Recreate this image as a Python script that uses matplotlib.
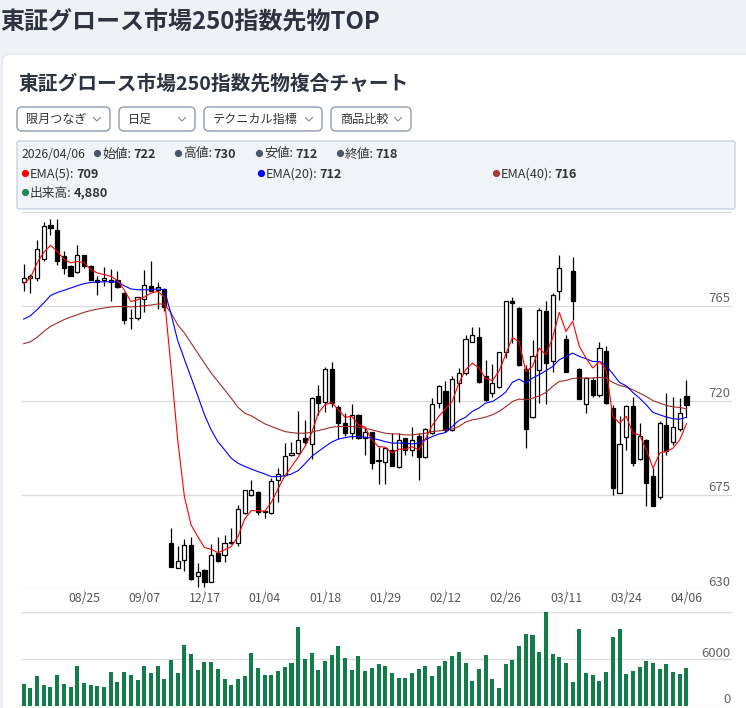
import matplotlib
matplotlib.use("Agg")
import matplotlib.pyplot as plt
from matplotlib.patches import FancyBboxPatch
from matplotlib.lines import Line2D
from matplotlib.transforms import Affine2D

plt.rcParams['font.family'] = ['Noto Sans CJK JP', 'DejaVu Sans']

# ---- data ----
opens = [776.5, 778.4, 778.4, 787.5, 803.5, 801.4, 788.7, 784.3, 781.3, 789.5,
         783.9, 777.6, 777.3, 777.6, 777.6, 771.2, 759.4, 759.1, 768.4, 774.7,
         772.5, 773.2, 652.0, 640.0, 643.9, 651.0, 636.4, 639.2, 633.6, 647.5,
         646.4, 652.0, 652.0, 666.3, 675.0, 676.6, 667.0, 666.3, 682.2, 684.6,
         694.1, 694.9, 702.3, 699.2, 722.2, 719.5, 735.0, 716.9, 709.2, 704.7,
         713.2, 702.1, 704.9, 691.2, 690.9, 696.5, 688.2, 702.1, 696.5, 703.3,
         693.0, 704.4, 719.0, 724.3, 706.0, 728.3, 733.1, 748.1, 750.5, 731.5,
         723.8, 726.4, 742.9, 767.6, 764.1, 735.0, 712.1, 734.6, 762.5, 738.6,
         772.0, 749.3, 781.5, 735.0, 718.3, 729.9, 722.7, 743.4, 716.5, 676.1,
         702.8, 717.5, 692.0, 701.3, 684.1, 673.9, 708.4, 700.0, 706.4, 722.0]
highs = [785.1, 780.3, 796.3, 804.9, 806.5, 806.5, 791.1, 784.7, 794.3, 789.5,
         784.7, 779.5, 783.6, 782.7, 781.5, 771.5, 763.6, 769.3, 782.0, 786.3,
         776.3, 773.5, 659.1, 650.8, 653.9, 655.1, 642.7, 639.6, 651.6, 654.8,
         655.9, 659.1, 670.1, 677.4, 682.2, 677.0, 667.5, 683.0, 687.9, 699.8,
         700.0, 714.8, 710.5, 721.9, 727.5, 736.2, 738.3, 717.9, 714.0, 718.4,
         713.5, 707.3, 705.2, 698.0, 698.0, 704.7, 704.4, 702.3, 707.3, 704.4,
         706.8, 721.1, 727.5, 729.1, 731.5, 735.5, 751.3, 755.0, 755.0, 739.4,
         737.5, 743.2, 767.6, 769.3, 764.8, 737.0, 749.0, 764.1, 767.2, 771.2,
         789.5, 751.3, 788.2, 735.3, 731.0, 731.2, 748.1, 746.0, 717.9, 712.4,
         717.9, 721.9, 709.2, 701.6, 687.7, 710.0, 723.8, 721.9, 721.1, 730.0]
lows = [772.3, 771.2, 776.8, 786.3, 799.0, 784.7, 780.4, 779.2, 780.8, 783.0,
        777.3, 770.4, 774.7, 767.6, 773.6, 756.6, 754.2, 758.5, 762.2, 772.0,
        763.6, 762.5, 640.8, 640.0, 638.9, 634.5, 631.0, 631.0, 633.6, 643.2,
        642.9, 651.6, 650.8, 665.8, 674.3, 665.5, 663.9, 666.0, 671.8, 684.0,
        693.5, 694.5, 699.5, 692.2, 713.2, 714.3, 717.0, 701.7, 703.3, 701.6,
        701.6, 694.1, 687.3, 680.3, 680.3, 689.0, 688.0, 694.1, 693.6, 682.2,
        692.7, 704.0, 716.5, 705.2, 705.5, 719.5, 732.3, 747.7, 728.3, 720.0,
        721.9, 726.0, 740.4, 747.4, 736.5, 697.3, 711.5, 718.8, 718.5, 733.8,
        767.7, 733.8, 758.5, 720.5, 714.0, 721.9, 721.9, 718.5, 675.0, 675.8,
        696.5, 688.8, 691.7, 669.8, 669.5, 673.0, 694.1, 698.9, 705.5, 712.0]
closes = [778.4, 779.4, 792.2, 803.3, 802.1, 786.3, 783.2, 779.2, 789.5, 783.9,
          777.3, 776.6, 778.4, 776.5, 773.9, 758.2, 759.1, 769.3, 775.1, 772.0,
          773.9, 764.8, 640.8, 643.7, 651.0, 634.8, 638.1, 633.6, 646.2, 643.7,
          652.0, 652.3, 668.2, 677.4, 677.4, 667.0, 667.2, 681.8, 684.9, 693.6,
          695.2, 701.3, 700.0, 721.1, 719.0, 735.0, 718.8, 709.2, 704.4, 713.2,
          702.1, 704.9, 690.1, 691.4, 697.3, 689.0, 701.3, 696.5, 701.3, 693.0,
          706.5, 718.4, 726.7, 706.0, 730.2, 733.1, 749.3, 751.3, 728.6, 720.3,
          728.3, 742.9, 767.6, 766.5, 737.0, 706.4, 741.3, 763.3, 738.1, 770.4,
          783.2, 733.8, 767.2, 720.7, 730.7, 722.7, 745.0, 719.0, 678.2, 699.3,
          717.5, 690.1, 703.2, 680.9, 669.8, 709.5, 695.7, 707.3, 714.0, 718.0]
ema5 = [775.7, 778.4, 785.6, 790.6, 794.0, 791.1, 787.5, 785.6, 786.3, 785.8,
        782.4, 780.8, 780.0, 779.2, 777.3, 772.8, 767.2, 768.0, 769.3, 771.2,
        772.0, 769.5, 736.0, 701.3, 674.2, 660.7, 655.1, 649.9, 649.1, 647.5,
        648.8, 650.4, 655.1, 663.5, 667.5, 667.5, 667.2, 671.5, 678.0, 684.0,
        688.5, 693.0, 698.0, 704.4, 714.0, 718.0, 719.0, 715.6, 712.0, 712.4,
        708.4, 707.3, 701.3, 698.0, 697.8, 694.9, 696.8, 696.8, 698.0, 696.5,
        701.6, 708.0, 712.5, 716.0, 719.5, 728.3, 734.6, 737.8, 735.5, 730.5,
        729.5, 734.0, 742.0, 750.0, 748.0, 733.8, 736.2, 745.0, 741.8, 749.8,
        762.0, 752.9, 757.7, 745.8, 740.2, 735.5, 738.6, 734.6, 712.4, 709.2,
        712.4, 704.4, 703.6, 696.5, 687.7, 694.9, 695.7, 697.3, 701.3, 709.0]
ema20 = [758.8, 760.4, 763.3, 766.5, 770.0, 771.5, 772.5, 773.6, 774.7, 775.7,
         776.3, 776.5, 776.6, 776.6, 776.6, 774.7, 773.2, 772.8, 772.8, 772.8,
         773.2, 772.8, 761.3, 748.6, 739.7, 731.0, 722.2, 713.2, 706.0, 700.4,
         696.5, 692.5, 690.1, 688.6, 687.3, 686.1, 685.0, 683.7, 683.7, 684.1,
         685.0, 686.6, 689.8, 693.3, 695.7, 698.0, 700.2, 701.6, 702.3, 702.8,
         702.8, 702.5, 702.0, 701.3, 700.4, 699.7, 699.7, 699.7, 699.3, 699.7,
         701.3, 702.8, 704.0, 704.7, 707.6, 710.5, 712.0, 714.8, 716.4, 718.8,
         719.5, 721.5, 724.0, 728.7, 730.2, 728.3, 730.7, 732.3, 734.2, 736.2,
         739.4, 741.0, 742.6, 741.0, 739.9, 738.6, 738.6, 736.6, 732.7, 728.6,
         727.0, 723.8, 721.1, 717.9, 714.3, 713.2, 712.1, 711.3, 711.1, 712.0]
ema40 = [747.1, 748.0, 750.1, 752.9, 755.3, 756.9, 758.5, 759.8, 760.9, 762.0,
         762.9, 763.6, 764.1, 764.6, 764.8, 764.8, 764.6, 764.8, 765.2, 765.5,
         766.0, 766.0, 761.7, 756.1, 752.2, 747.4, 742.6, 737.8, 733.1, 729.1,
         725.1, 721.1, 716.8, 714.0, 712.7, 710.8, 708.9, 707.6, 706.4, 705.2,
         704.7, 704.4, 704.4, 704.9, 705.7, 706.4, 707.3, 707.6, 707.6, 707.6,
         707.3, 706.8, 706.0, 705.2, 704.4, 704.1, 704.0, 703.6, 703.6, 704.0,
         704.4, 705.2, 705.5, 706.0, 706.4, 707.6, 709.7, 710.8, 711.3, 712.1,
         713.2, 714.8, 717.0, 719.5, 720.7, 720.3, 721.1, 722.2, 723.8, 726.7,
         729.1, 729.5, 730.5, 730.7, 730.7, 730.7, 731.0, 730.7, 728.6, 727.2,
         726.4, 725.1, 723.5, 721.9, 719.9, 718.8, 717.6, 717.0, 716.7, 716.0]
volume = [2790, 2230, 3820, 2660, 2400, 3950, 2790, 2400, 5100, 2920,
          2660, 2530, 2400, 4330, 3050, 4330, 3950, 3300, 5100, 4200,
          5100, 3430, 5870, 4200, 7800, 6640, 4590, 5620, 5620, 4720,
          3430, 2660, 3430, 3820, 6770, 4850, 3950, 3950, 4460, 4970,
          5490, 10100, 6000, 6770, 4590, 5740, 6510, 7670, 6130, 4590,
          6380, 4460, 4850, 5360, 5100, 4160, 3520, 3520, 4160, 4680,
          5100, 3820, 5100, 5740, 6380, 6900, 5490, 3170, 4720, 6510,
          3430, 2270, 5360, 5870, 7670, 9200, 9080, 6900, 12000, 6640,
          6260, 5490, 3050, 9860, 4200, 3950, 3170, 4330, 8830, 9860,
          4080, 4460, 4970, 5740, 5490, 4720, 5360, 4330, 4080, 4880]
date_ticks = [9, 18, 27, 36, 45, 54, 63, 72, 81, 90, 99]
date_labels = ['08/25', '09/07', '12/17', '01/04', '01/18', '01/29',
               '02/12', '02/26', '03/11', '03/24', '04/06']
price_ticks = [630, 675, 720, 765, 810]
vol_ticks = [0, 6000, 12000]

W, H = 746, 708
fig = plt.figure(figsize=(W / 100, H / 100), dpi=100)
fig.patch.set_facecolor('#eef2f7')
# pixel coordinates measured from the top-left corner
pix = Affine2D().scale(1 / 100, -1 / 100).translate(0, H / 100) + fig.dpi_scale_trans


def fx(x):
    return x / W


def fy(y):
    return 1 - y / H


def box(x, y, w, h, fc, ec, r, z=1):
    p = FancyBboxPatch((x, y), w, h, boxstyle='round,pad=0,rounding_size=%s' % r,
                       transform=pix, fc=fc, ec=ec, lw=1, zorder=z)
    fig.add_artist(p)


# white card behind everything
box(2, 54, 800, 720, 'white', '#e3e8ef', 9, z=-5)

fig.text(0, 22, '東証グロース市場250指数先物TOP', transform=pix, fontsize=17.3,
         fontweight='bold', color='#2d3340', va='center', ha='left')
fig.text(18, 84, '東証グロース市場250指数先物複合チャート', transform=pix, fontsize=14.2,
         fontweight='bold', color='#2d3340', va='center', ha='left')

# dropdowns
for x0, x1, label in [(17, 110, '限月つなぎ'), (119, 195, '日足'),
                      (204, 322, 'テクニカル指標'), (331, 411, '商品比較')]:
    box(x0, 107, x1 - x0, 24, 'white', '#8f9bb0', 5)
    fig.text(x0 + 9, 119, label, transform=pix, fontsize=8.7, color='#333',
             va='center', ha='left')
    cx = x1 - 13
    fig.add_artist(Line2D([cx - 3.5, cx, cx + 3.5], [117.5, 121, 117.5], transform=pix,
                          color='#8a8a8a', lw=0.8))

# info box
box(17, 141, 718, 68, '#f0f4f9', '#c9d3df', 2)
renderer = fig.canvas.get_renderer()


def item(x, y, dot, label, value):
    fig.add_artist(Line2D([x], [y - 1], transform=pix, marker='o', ms=5.2,
                          color=dot, mec='none'))
    t = fig.text(x + 5, y, label, transform=pix, fontsize=9.2, color='#333',
                 va='center', ha='left')
    w = t.get_window_extent(renderer=renderer).width
    fig.text(x + 5 + w + 2, y, value, transform=pix, fontsize=9.2, color='#333',
             fontweight='bold', va='center', ha='left')


fig.text(22, 154, '2026/04/06', transform=pix, fontsize=8.8, color='#333',
         va='center', ha='left')
item(97, 154, '#4a5568', '始値:', '722')
item(178, 154, '#4a5568', '高値:', '730')
item(259, 154, '#4a5568', '安値:', '712')
item(340, 154, '#4a5568', '終値:', '718')
item(25, 174, '#ff0000', 'EMA(5):', '709')
item(261, 174, '#0000ff', 'EMA(20):', '712')
item(496, 174, '#a33a3a', 'EMA(40):', '716')
item(25, 193, '#1f8a55', '出来高:', '4,880')

# price axes
left, right = 21.7, 732
ax = fig.add_axes([fx(left), fy(589.3), (right - left) / W, (589.3 - 211.7) / H])
ax.set_xlim(-0.3, 105.8)
ax.set_ylim(630, 810)
ax.patch.set_alpha(0)
for s in ax.spines.values():
    s.set_visible(False)
for v in price_ticks:
    ax.axhline(v, color='#dadada', lw=0.9, zorder=0)
    if v < 810:
        ax.annotate(str(v), xy=(1, v), xycoords=('axes fraction', 'data'),
                    xytext=(-1, 0.5), textcoords='offset points', ha='right',
                    va='bottom', fontsize=9.5, color='#666')
ax.set_yticks([])
ax.set_xticks(date_ticks)
ax.set_xticklabels(date_labels)
ax.tick_params(axis='x', length=4, color='#c8c8c8', pad=-2.2, labelsize=8.8,
               labelcolor='#555')

for i in range(len(opens)):
    o, h, l, c = opens[i], highs[i], lows[i], closes[i]
    ax.vlines(i, l, h, color='black', lw=0.9, zorder=2)
    up = c >= o
    ax.bar(i, max(abs(c - o), 0.35), bottom=min(o, c), width=0.62,
           color='white' if up else 'black', edgecolor='black', lw=0.9, zorder=2)

idx = list(range(len(closes)))
ax.plot(idx, ema40, color='#a52a2a', lw=0.8, zorder=3)
ax.plot(idx, ema20, color='#0000ff', lw=0.8, zorder=3)
ax.plot(idx, ema5, color='#ff0000', lw=0.8, zorder=3)

# volume axes
axv = fig.add_axes([fx(left), fy(705.7), (right - left) / W, (705.7 - 612.3) / H])
axv.set_xlim(-0.3, 105.8)
axv.set_ylim(0, 12000)
axv.patch.set_alpha(0)
for s in axv.spines.values():
    s.set_visible(False)
axv.set_xticks([])
axv.set_yticks([])
for v in vol_ticks:
    axv.axhline(v, color='#dadada', lw=0.9, zorder=0)
    if v < 12000:
        axv.annotate(str(v), xy=(1, v), xycoords=('axes fraction', 'data'),
                     xytext=(-1, -0.5), textcoords='offset points', ha='right',
                     va='bottom', fontsize=9.5, color='#666')
axv.bar(idx, volume, width=0.6, color='#137d49', zorder=2)

fig.savefig('out.png', dpi=100)
